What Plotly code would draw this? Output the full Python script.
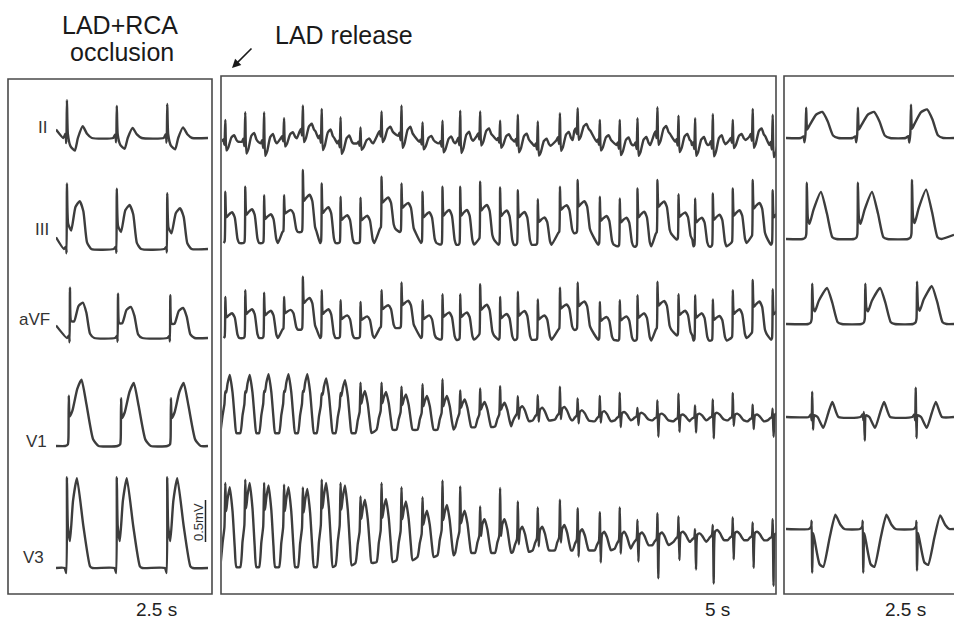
import plotly.graph_objects as go

# ===================== DATA =====================
# ---- Left strip: LAD+RCA occlusion, 2.5 s ----  (times s, voltages mV)
occ_II_beats = [0.18, 1.00, 1.83]
occ_II_ms = [-60, -25, -10, 0, 15, 60, 130, 180, 260, 330, 410]
occ_II_mv = [0, 0.05, -0.06, 0.45, 0.05, -0.10, -0.15, 0.0, 0.14, 0.05, 0]
occ_II_gain = [1.0, 0.85, 0.90]
occ_II_ends = [0.10, 0.0]

occ_III_beats = [0.18, 1.00, 1.83]
occ_III_ms = [-50, -15, -6, 0, 20, 70, 140, 210, 270, 330, 400]
occ_III_mv = [0, 0.03, -0.05, 0.78, 0.30, 0.22, 0.50, 0.57, 0.45, 0.08, 0]
occ_III_gain = [1.0, 0.92, 0.85]
occ_III_ends = [0.14, 0.0]

occ_aVF_beats = [0.23, 1.02, 1.88]
occ_aVF_ms = [-50, -15, -6, 0, 20, 70, 140, 210, 270, 330, 400]
occ_aVF_mv = [0, 0.03, -0.05, 0.60, 0.20, 0.20, 0.38, 0.42, 0.30, 0.05, 0]
occ_aVF_gain = [1.0, 0.88, 0.85]
occ_aVF_ends = [0.15, 0.0]

occ_V1_beats = [0.21, 1.07, 1.89]
occ_V1_ms = [-60, -15, -5, 0, 15, 60, 140, 210, 290, 400, 490]
occ_V1_mv = [0, 0.02, 0.10, 0.60, 0.35, 0.42, 0.68, 0.79, 0.50, 0.08, 0]
occ_V1_gain = [1.0, 0.95, 0.95]
occ_V1_ends = [0.0, 0.0]

occ_V3_beats = [0.18, 1.00, 1.83]
occ_V3_ms = [-40, -10, 0, 15, 50, 100, 165, 270, 380, 420]
occ_V3_mv = [0, -0.06, 1.08, 0.50, 0.32, 0.80, 1.07, 0.50, 0.02, 0]
occ_V3_gain = [1.0, 1.0, 1.0]
occ_V3_ends = [0.0, 0.0]

# ---- Middle strip: LAD release, 5 s ----
rel_beats = [0.03, 0.21, 0.38, 0.56, 0.73, 0.90, 1.07, 1.25, 1.44, 1.62,
             1.81, 1.99, 2.15, 2.33, 2.51, 2.67, 2.85, 3.05, 3.21, 3.41,
             3.59, 3.75, 3.93, 4.12, 4.27, 4.43, 4.61, 4.79, 4.97]

rel_II_ms = [-30, -18, -8, 0, 10, 28, 55, 80, 100, 115]
rel_II_shape = [0, 0.10, -0.15, 1.0, -0.40, -0.25, 0.20, 0.30, 0.08, 0]
rel_II_amp = [0.26, 0.35, 0.37, 0.24, 0.31, 0.35, 0.31, 0.19, 0.26, 0.36,
              0.23, 0.27, 0.36, 0.29, 0.23, 0.32, 0.29, 0.32, 0.27, 0.26,
              0.30, 0.32, 0.32, 0.31, 0.32, 0.36, 0.24, 0.33, 0.36]
rel_II_base = [-0.02, -0.02, -0.04, 0.02, 0.10, 0.02, -0.04, -0.04, 0.08, 0.05,
               -0.02, -0.04, -0.01, 0.05, 0.0, -0.02, -0.07, 0.0, 0.11, -0.02,
               -0.06, -0.06, 0.07, -0.02, -0.06, -0.05, 0.0, 0.04, -0.06]

rel_III_ms = [-15, -6, 0, 10, 30, 60, 85, 110, 125]
rel_III_shape = [0, 0.03, 1.0, 0.50, 0.55, 0.60, 0.50, 0.08, 0]
rel_III_amp = [0.61, 0.67, 0.57, 0.44, 0.74, 0.71, 0.55, 0.54, 0.62, 0.58,
               0.61, 0.69, 0.69, 0.69, 0.68, 0.65, 0.54, 0.55, 0.63, 0.57,
               0.57, 0.69, 0.64, 0.54, 0.57, 0.63, 0.65, 0.68, 0.65]
rel_III_base = [0, 0, 0, 0.13, 0.13, 0, 0, 0, 0.17, 0.13,
                0, -0.02, -0.02, 0.04, -0.02, -0.02, -0.02, 0.12, 0.12, -0.02,
                -0.04, -0.04, 0.11, 0.04, -0.04, -0.04, 0, 0.07, -0.02]

rel_aVF_ms = [-15, -6, 0, 10, 30, 60, 85, 110, 125]
rel_aVF_shape = [0, 0.03, 1.0, 0.50, 0.55, 0.60, 0.50, 0.08, 0]
rel_aVF_amp = [0.49, 0.57, 0.54, 0.39, 0.63, 0.57, 0.45, 0.43, 0.45, 0.54,
               0.45, 0.54, 0.54, 0.61, 0.51, 0.57, 0.48, 0.50, 0.56, 0.45,
               0.48, 0.54, 0.57, 0.49, 0.54, 0.49, 0.57, 0.64, 0.60]
rel_aVF_base = [0, 0, 0, 0.10, 0.10, 0, 0, 0, 0.12, 0.12,
                0, -0.02, -0.02, 0.03, -0.02, -0.02, -0.02, 0.10, 0.10, -0.02,
                -0.03, -0.03, 0.10, 0.03, -0.03, -0.03, 0, 0.05, -0.02]

rel_V_ms = [-45, -25, -8, 0, 8, 20, 40, 65, 85, 100]
rel_V_hump = [0, 0.30, 0.50, 0.60, 0.70, 0.85, 1.0, 0.70, 0.25, 0]
rel_V_spike = [0, 0, 0, 1, 0, 0, 0, 0, 0, 0]
rel_V_sdip = [0, 0, 0, 0, -1, 0, 0, 0, 0, 0]

rel_V1_base = [0, 0, 0, 0, 0, 0, 0, 0, 0.04, 0.04,
               0.04, 0.04, 0.07, 0.07, 0.08, 0.14, 0.15, 0.16, 0.15, 0.14,
               0.15, 0.16, 0.15, 0.14, 0.15, 0.16, 0.15, 0.14, 0.15]
rel_V1_hump = [0.69, 0.69, 0.70, 0.70, 0.70, 0.65, 0.63, 0.50, 0.45, 0.42,
               0.40, 0.40, 0.33, 0.30, 0.28, 0.18, 0.15, 0.15, 0.12, 0.12,
               0.10, 0.08, 0.08, 0.08, 0.08, 0.08, 0.08, 0.08, 0.08]
rel_V1_spike = [0.08, 0.08, 0.08, 0.08, 0.08, 0.08, 0.10, 0.30, 0.29, 0.26,
                0.30, 0.36, 0.24, 0.28, 0.31, 0.19, 0.21, 0.30, 0.19, 0.23,
                0.27, 0.09, 0.19, 0.28, 0.13, 0.19, 0.28, 0.15, 0.09]
rel_V1_s = [0, 0, 0, 0, 0, 0, 0, 0, 0, 0,
            0, 0, 0, 0, 0, 0.10, 0.12, 0.10, 0.12, 0.10,
            0.15, 0.12, 0.25, 0.18, 0.20, 0.28, 0.12, 0.15, 0.25]

rel_V3_base = [0, 0, 0, 0, 0, 0, 0.02, 0.05, 0.06, 0.08,
               0.12, 0.14, 0.17, 0.17, 0.17, 0.18, 0.20, 0.20, 0.20, 0.20,
               0.22, 0.26, 0.26, 0.30, 0.30, 0.32, 0.32, 0.32, 0.32]
rel_V3_hump = [0.95, 1.0, 0.97, 0.95, 0.93, 1.0, 0.95, 0.75, 0.75, 0.70,
               0.55, 0.60, 0.50, 0.40, 0.40, 0.30, 0.28, 0.30, 0.25, 0.22,
               0.20, 0.15, 0.15, 0.12, 0.10, 0.12, 0.10, 0.10, 0.08]
rel_V3_spike = [0.43, 0.44, 0.42, 0.41, 0.39, 0.44, 0.41, 0.34, 0.49, 0.45,
                0.38, 0.53, 0.49, 0.31, 0.53, 0.42, 0.34, 0.42, 0.35, 0.32,
                0.37, 0.21, 0.29, 0.23, 0.09, 0.11, 0.21, 0.15, 0.20]
rel_V3_s = [0, 0, 0, 0, 0, 0, 0, 0, 0, 0,
            0, 0, 0, 0.08, 0.08, 0.12, 0.15, 0.12, 0.25, 0.30,
            0.20, 0.30, 0.50, 0.30, 0.40, 0.60, 0.30, 0.40, 0.60]

# ---- Right strip: 2.5 s ----
rec_II_beats = [0.30, 1.07, 1.86]
rec_II_ms = [-80, -40, -25, -10, 0, 15, 50, 150, 240, 320, 400, 480]
rec_II_mv = [0, 0.02, -0.05, 0.05, 0.36, 0.10, 0.15, 0.28, 0.31, 0.20, 0.03, 0]
rec_II_gain = [1.0, 1.0, 1.1]
rec_II_ends = [0.0, 0.0]

rec_III_beats = [0.31, 1.07, 1.875]
rec_III_ms = [-60, -20, -8, 0, 15, 40, 100, 210, 300, 380, 440]
rec_III_mv = [0, 0.02, 0.06, 0.67, 0.25, 0.18, 0.35, 0.56, 0.30, 0.02, 0]
rec_III_gain = [1.0, 1.0, 1.05]
rec_III_ends = [0.0, 0.05]

rec_aVF_beats = [0.39, 1.18, 1.95]
rec_aVF_ms = [-60, -20, -8, 0, 15, 40, 100, 220, 300, 380, 440]
rec_aVF_mv = [0, 0.02, 0.06, 0.48, 0.20, 0.15, 0.28, 0.43, 0.25, 0.02, 0]
rec_aVF_gain = [1.0, 1.0, 1.05]
rec_aVF_ends = [0.0, 0.0]

rec_V1_beats = [0.39, 1.16, 1.93]
rec_V1_ms = [-50, -20, -8, 0, 12, 30, 80, 165, 240, 300, 390]
rec_V1_t = [0, 0.03, -0.04, 0, 0, 0.02, 0, -0.13, 0.05, 0.18, 0]
rec_V1_spk = [0, 0, 0, 1, 0, 0, 0, 0, 0, 0, 0]
rec_V1_dip = [0, 0, 0, 0, -1, 0, 0, 0, 0, 0, 0]
rec_V1_gain = [1.0, 1.0, 1.0]
rec_V1_r = [0.30, 0.06, 0.35]
rec_V1_sd = [0.15, 0.28, 0.25]
rec_V1_ends = [0.0, 0.0]

rec_V3_beats = [0.39, 1.15, 1.95]
rec_V3_ms = [-50, -15, -8, 0, 15, 40, 110, 165, 260, 345, 420, 480]
rec_V3_mv = [0, 0.03, 0.10, -0.52, -0.05, -0.15, -0.42, -0.45, -0.10, 0.17, 0.05, 0]
rec_V3_gain = [1.0, 1.0, 0.95]
rec_V3_ends = [0.0, 0.0]

LEADS = ["II", "III", "aVF", "V1", "V3"]
TITLE_OCC = ["LAD+RCA", "occlusion"]
TITLE_REL = "LAD release"
DUR_LABELS = ["2.5 s", "5 s", "2.5 s"]
SCALE_LABEL = "0.5mV"

# ===================== LAYOUT (pixel geometry) =====================
W, H = 954, 620
PX_PER_MV = 84.0
BOX_TOP, BOX_BOT = 77, 593
PANEL_X = [(56, 208, 2.5), (222, 776, 5.0), (786, 954, 2.5)]   # trace x-extent (px), duration
BASE_PX = [[138, 249, 338, 446, 568],     # zero-mV line of each lead (px) per panel
           [140, 243, 338, 433, 567],
           [138, 239, 324, 417, 529]]
LINE = dict(color="#3d3d3d", width=2.4, shape="spline", smoothing=0.5)
FONT = "Liberation Sans, Arial, sans-serif"


def px(x):
    return x / W


def py(y):
    return 1 - y / H


def train(beats, ms, comps, base=None, ends=None, dur=None):
    xs, ys = [], []
    if ends is not None:
        xs.append(0.0)
        ys.append(ends[0])
    for i, t0 in enumerate(beats):
        b = base[i] if base is not None else 0.0
        for k, d in enumerate(ms):
            v = b
            for shape, amps in comps:
                v += amps[i] * shape[k]
            xs.append(t0 + d / 1000.0)
            ys.append(v)
    if ends is not None:
        xs.append(dur)
        ys.append(ends[1])
    return xs, ys


series = {}
series[(0, 0)] = train(occ_II_beats, occ_II_ms, [(occ_II_mv, occ_II_gain)], ends=occ_II_ends, dur=2.5)
series[(0, 1)] = train(occ_III_beats, occ_III_ms, [(occ_III_mv, occ_III_gain)], ends=occ_III_ends, dur=2.5)
series[(0, 2)] = train(occ_aVF_beats, occ_aVF_ms, [(occ_aVF_mv, occ_aVF_gain)], ends=occ_aVF_ends, dur=2.5)
series[(0, 3)] = train(occ_V1_beats, occ_V1_ms, [(occ_V1_mv, occ_V1_gain)], ends=occ_V1_ends, dur=2.5)
series[(0, 4)] = train(occ_V3_beats, occ_V3_ms, [(occ_V3_mv, occ_V3_gain)], ends=occ_V3_ends, dur=2.5)

series[(1, 0)] = train(rel_beats, rel_II_ms, [(rel_II_shape, rel_II_amp)], base=rel_II_base)
series[(1, 1)] = train(rel_beats, rel_III_ms, [(rel_III_shape, rel_III_amp)], base=rel_III_base)
series[(1, 2)] = train(rel_beats, rel_aVF_ms, [(rel_aVF_shape, rel_aVF_amp)], base=rel_aVF_base)
series[(1, 3)] = train(rel_beats, rel_V_ms, [(rel_V_hump, rel_V1_hump), (rel_V_spike, rel_V1_spike),
                                             (rel_V_sdip, rel_V1_s)], base=rel_V1_base)
series[(1, 4)] = train(rel_beats, rel_V_ms, [(rel_V_hump, rel_V3_hump), (rel_V_spike, rel_V3_spike),
                                             (rel_V_sdip, rel_V3_s)], base=rel_V3_base)

series[(2, 0)] = train(rec_II_beats, rec_II_ms, [(rec_II_mv, rec_II_gain)], ends=rec_II_ends, dur=2.5)
series[(2, 1)] = train(rec_III_beats, rec_III_ms, [(rec_III_mv, rec_III_gain)], ends=rec_III_ends, dur=2.5)
series[(2, 2)] = train(rec_aVF_beats, rec_aVF_ms, [(rec_aVF_mv, rec_aVF_gain)], ends=rec_aVF_ends, dur=2.5)
series[(2, 3)] = train(rec_V1_beats, rec_V1_ms, [(rec_V1_t, rec_V1_gain), (rec_V1_spk, rec_V1_r),
                                                  (rec_V1_dip, rec_V1_sd)], ends=rec_V1_ends, dur=2.5)
series[(2, 4)] = train(rec_V3_beats, rec_V3_ms, [(rec_V3_mv, rec_V3_gain)], ends=rec_V3_ends, dur=2.5)

fig = go.Figure()
layout_axes = {}
for p, (x0, x1, dur) in enumerate(PANEL_X):
    xname = "x" if p == 0 else f"x{p + 1}"
    xkey = "xaxis" if p == 0 else f"xaxis{p + 1}"
    layout_axes[xkey] = dict(domain=[px(x0), px(x1)], range=[0, dur], visible=False,
                             fixedrange=True, anchor=f"y{p * 5 + 1}" if p else "y")
    for r, lead in enumerate(LEADS):
        idx = p * 5 + r + 1
        yname = "y" if idx == 1 else f"y{idx}"
        ykey = "yaxis" if idx == 1 else f"yaxis{idx}"
        b = BASE_PX[p][r]
        layout_axes[ykey] = dict(domain=[py(BOX_BOT), py(BOX_TOP)],
                                 range=[(b - BOX_BOT) / PX_PER_MV, (b - BOX_TOP) / PX_PER_MV],
                                 visible=False, fixedrange=True, anchor=xname)
        xs, ys = series[(p, r)]
        fig.add_trace(go.Scatter(x=xs, y=ys, mode="lines", line=LINE, xaxis=xname, yaxis=yname,
                                 hoverinfo="skip", showlegend=False, name=f"{lead}"))

shapes = []
for (bx0, by0, bx1, by1) in [(8, 79, 212, 594), (221, 76, 776, 594), (784, 76, 962, 594)]:
    shapes.append(dict(type="rect", xref="paper", yref="paper", x0=px(bx0), x1=px(bx1),
                       y0=py(by1), y1=py(by0), line=dict(color="#4a4a4a", width=1.6)))
# 0.5 mV scale bar
shapes.append(dict(type="line", xref="paper", yref="paper", x0=px(205.5), x1=px(205.5),
                   y0=py(542), y1=py(500), line=dict(color="#222222", width=1.5), layer="above"))

ann = []


def text(s, x, y, size, color="#1a1a1a", angle=0):
    ann.append(dict(text=s, x=px(x), y=py(y), xref="paper", yref="paper", showarrow=False,
                    xanchor="center", yanchor="middle", textangle=angle,
                    font=dict(family=FONT, size=size, color=color)))


text(TITLE_OCC[0], 120, 25, 25)
text(TITLE_OCC[1], 122, 52, 25)
text(TITLE_REL, 344, 35, 25)
lead_pos = [(42, 128), (42, 229), (34, 319), (36, 441), (33, 557)]
for lead, (lx, ly) in zip(LEADS, lead_pos):
    text(lead, lx, ly, 17, color="#333333")
text(SCALE_LABEL, 198, 522, 13, color="#333333", angle=-90)
for lab, lx in zip(DUR_LABELS, [156, 717, 905]):
    text(lab, lx, 609, 19, color="#222222")
ann.append(dict(text="", x=px(232), y=py(68), xref="paper", yref="paper", showarrow=True,
                ax=21, ay=-21, arrowhead=2, arrowsize=1.1, arrowwidth=1.6, arrowcolor="#1a1a1a"))

fig.update_layout(width=W, height=H, margin=dict(l=0, r=0, t=0, b=0),
                  paper_bgcolor="white", plot_bgcolor="rgba(0,0,0,0)",
                  shapes=shapes, annotations=ann, showlegend=False, **layout_axes)
fig.write_html("out.html", config={"displayModeBar": False, "staticPlot": True},
               post_script="document.body.style.margin='0px';")
